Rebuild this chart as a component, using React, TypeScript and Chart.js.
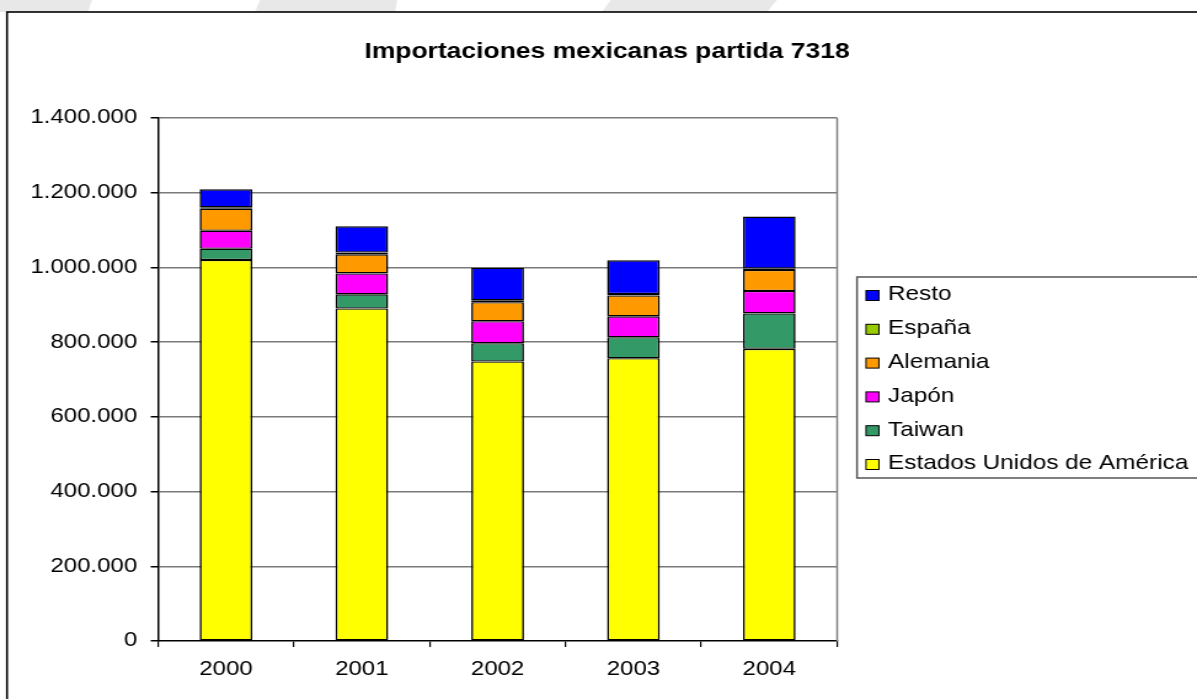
import { useEffect, useRef } from "react";
import { Chart, registerables } from "chart.js";

Chart.register(...registerables);

// ---- data ----
const years = ["2000", "2001", "2002", "2003", "2004"];
const usa = [1020000, 890000, 748000, 757000, 782000];
const taiwan = [30000, 38000, 49000, 56000, 95000];
const japon = [48000, 56000, 59000, 56000, 60000];
const alemania = [59000, 51000, 51000, 56000, 56000];
const espana = [4000, 5000, 5000, 4000, 4000];
const resto = [48000, 70000, 87000, 90000, 139000];

const seriesNames = ["Estados Unidos de América", "Taiwan", "Japón", "Alemania", "España", "Resto"];
const seriesColors = ["#FFFF00", "#339966", "#FF00FF", "#FF9900", "#99CC00", "#0000FF"];
const seriesValues = [usa, taiwan, japon, alemania, espana, resto];

const yMin = 0;
const yMax = 1400000;
const yStep = 200000;
const chartTitle = "Importaciones mexicanas partida 7318";

// ---- layout (the source picture is horizontally stretched) ----
const LOGICAL_W = 973;
const H = 699;
const DISPLAY_W = 1197;
const S = DISPLAY_W / LOGICAL_W;
const FONT = "'Liberation Sans', Arial, sans-serif";

const fmt = (v: number) => String(v).replace(/\B(?=(\d{3})+(?!\d))/g, ".");

const decorPlugin = {
  id: "decor",
  beforeDraw(chart: any) {
    const ctx = chart.ctx as CanvasRenderingContext2D;
    ctx.save();
    ctx.fillStyle = "#ffffff";
    ctx.fillRect(0, 0, chart.width, chart.height);
    // faint watermark shapes outside the frame
    ctx.fillStyle = "#e8e8e8";
    const polys: number[][][] = [
      [[0, 0], [92, 0], [88, 12], [0, 12]],
      [[260, 0], [397, 0], [395, 12], [255, 12]],
      [[611, 0], [777, 0], [767, 12], [602, 12]],
    ];
    for (const p of polys) {
      ctx.beginPath();
      p.forEach(([x, y], i) => (i ? ctx.lineTo(x / S, y) : ctx.moveTo(x / S, y)));
      ctx.closePath();
      ctx.fill();
    }
    // outer frame
    ctx.strokeStyle = "#000000";
    ctx.lineWidth = 1.6;
    ctx.strokeRect(7 / S, 12, chart.width + 20, chart.height + 20);
    ctx.restore();
  },
  afterDraw(chart: any) {
    const ctx = chart.ctx as CanvasRenderingContext2D;
    const area = chart.chartArea;
    ctx.save();
    // right border of plot area
    ctx.strokeStyle = "#808080";
    ctx.lineWidth = 1.5;
    ctx.beginPath();
    ctx.moveTo(area.right, area.top);
    ctx.lineTo(area.right, area.bottom);
    ctx.stroke();

    // title
    ctx.fillStyle = "#000000";
    ctx.font = `bold 21.5px ${FONT}`;
    ctx.textAlign = "center";
    ctx.textBaseline = "alphabetic";
    ctx.fillText(chartTitle, 607 / S, 58);

    // legend box
    const lx = 857 / S;
    ctx.strokeStyle = "#555555";
    ctx.lineWidth = 1.5;
    ctx.strokeRect(lx, 277, chart.width, 201);

    // legend entries (reversed order)
    const ds = chart.data.datasets;
    ctx.font = `19.8px ${FONT}`;
    ctx.textAlign = "left";
    ctx.textBaseline = "middle";
    for (let k = 0; k < ds.length; k++) {
      const d = ds[ds.length - 1 - k];
      const cy = 295 + k * 33.8;
      ctx.fillStyle = d.backgroundColor;
      ctx.fillRect(866 / S, cy - 4.5, 10.5, 10);
      ctx.strokeStyle = "#000000";
      ctx.lineWidth = 1;
      ctx.strokeRect(866 / S, cy - 4.5, 10.5, 10);
      ctx.fillStyle = "#000000";
      ctx.fillText(d.label, 888 / S, cy);
    }
    ctx.restore();
  },
};

export default function App() {
  const ref = useRef<HTMLCanvasElement | null>(null);

  useEffect(() => {
    if (!ref.current) return;
    const chart = new Chart(ref.current, {
      type: "bar",
      data: {
        labels: years,
        datasets: seriesValues.map((vals, i) => ({
          label: seriesNames[i],
          data: vals,
          backgroundColor: seriesColors[i],
          borderColor: "#000000",
          borderWidth: { top: 1.3, bottom: 1.3, left: 1.6, right: 1.6 },
          borderSkipped: false,
          barPercentage: 0.388,
          categoryPercentage: 1,
        })),
      },
      options: {
        responsive: false,
        animation: false,
        devicePixelRatio: 1,
        layout: { padding: { left: 8.5, top: 118, right: LOGICAL_W - 680.5, bottom: 8 } },
        plugins: {
          legend: { display: false },
          title: { display: false },
          tooltip: { enabled: false },
        },
        scales: {
          x: {
            stacked: true,
            afterFit: (s: any) => {
              s.height = 50;
            },
            grid: {
              drawOnChartArea: false,
              drawTicks: true,
              tickLength: 6,
              color: "#000000",
              lineWidth: 1.2,
            },
            border: { display: true, color: "#000000", width: 1.5 },
            ticks: {
              color: "#000000",
              padding: 11,
              font: { family: FONT, size: 19.5 },
            },
          },
          y: {
            stacked: true,
            min: yMin,
            max: yMax,
            afterFit: (s: any) => {
              s.width = 120;
            },
            grid: {
              color: (c: any) => (c.tick && c.tick.value === 0 ? "rgba(0,0,0,0)" : "#7a7a7a"),
              tickColor: "#000000",
              lineWidth: 1.5,
              tickLength: 6,
            },
            border: { display: true, color: "#000000", width: 1.5 },
            ticks: {
              stepSize: yStep,
              color: "#000000",
              padding: 11,
              font: { family: FONT, size: 19.5 },
              callback: (v: any) => fmt(Number(v)),
            },
          },
        },
      },
      plugins: [decorPlugin],
    });
    return () => chart.destroy();
  }, []);

  return (
    <div style={{ position: "fixed", left: 0, top: 0, width: DISPLAY_W, height: H }}>
      <canvas
        ref={ref}
        width={LOGICAL_W}
        height={H}
        style={{ width: `${DISPLAY_W}px`, height: `${H}px`, display: "block" }}
      />
    </div>
  );
}
